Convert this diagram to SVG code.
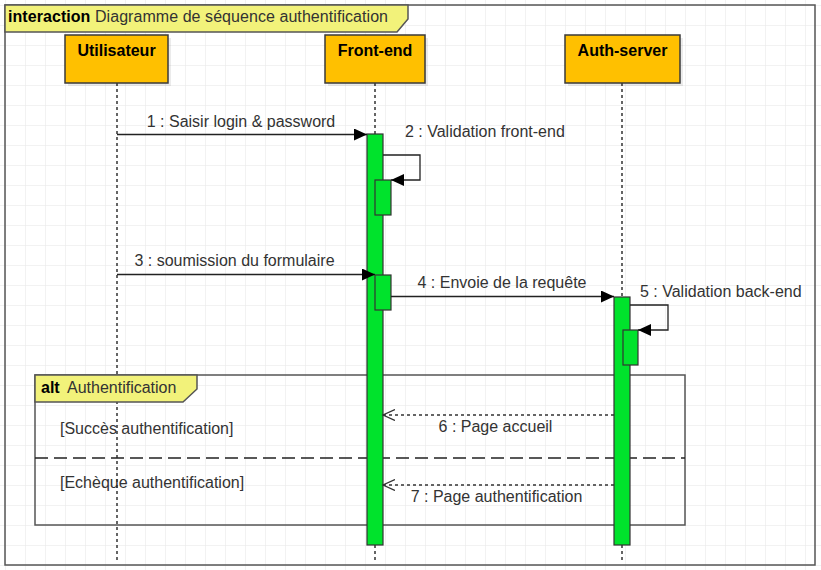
<svg xmlns="http://www.w3.org/2000/svg" width="821" height="570" viewBox="0 0 821 570">
<style>
text{font-family:"Liberation Sans",Arial,sans-serif;font-size:16px;fill:#333}
.b{font-weight:bold;fill:#000}
.frame{fill:none;stroke:#555;stroke-width:1.5}
.tab{fill:#f2f27a;stroke:#555;stroke-width:1.5}
.lbox{fill:#ffc000;stroke:#3a3a3a;stroke-width:1.5}
.shadow{fill:#000;opacity:0.08}
.life{stroke:#333;stroke-width:1.5;stroke-dasharray:3 3;fill:none}
.bar{fill:#00e32c;stroke:#333;stroke-width:1.2}
.msg{stroke:#222;stroke-width:1.3;fill:none}
.ret{stroke:#333;stroke-width:1.3;fill:none;stroke-dasharray:3 3}
.div{stroke:#222;stroke-width:1.3;stroke-dasharray:13 6;fill:none}
</style>
<defs>
<pattern id="grid" width="20" height="20" x="5" y="5" patternUnits="userSpaceOnUse">
<path d="M20,0 L0,0 L0,20" fill="none" stroke="#e6e6e6" stroke-width="1"/>
</pattern>
<marker id="filled" markerUnits="userSpaceOnUse" markerWidth="14" markerHeight="12" refX="13" refY="6" orient="auto">
<path d="M0,0 L13,6 L0,12 z" fill="#000"/>
</marker>
<marker id="open" markerUnits="userSpaceOnUse" markerWidth="14" markerHeight="12" refX="12" refY="6" orient="auto">
<path d="M0,0.5 L12,6 L0,11.5" fill="none" stroke="#333" stroke-width="1.3"/>
</marker>
</defs>
<rect width="821" height="570" fill="#fff"/>
<rect width="821" height="570" fill="url(#grid)"/>

<g id="frame-interaction">
<rect class="frame" x="5" y="5" width="810" height="560"/>
<path class="tab" d="M5,5 L408,5 L408,19 L397,32 L5,32 Z"/>
<text x="8" y="22" textLength="380"><tspan class="b">interaction</tspan> Diagramme de séquence authentification</text>
</g>

<g id="lifelines">
<line class="life" x1="117" y1="83" x2="117" y2="562"/>
<line class="life" x1="375" y1="83" x2="375" y2="562"/>
<line class="life" x1="622" y1="83" x2="622" y2="562"/>
</g>

<g id="alt-frame">
<rect class="frame" x="35" y="375" width="650" height="150"/>
<path class="tab" d="M35,375 L197,375 L197,389 L183,402 L35,402 Z"/>
<text x="41" y="393"><tspan class="b">alt</tspan><tspan x="67">Authentification</tspan></text>
<line class="div" x1="35" y1="458" x2="685" y2="458"/>
<text x="60" y="434">[Succès authentification]</text>
<text x="60" y="488">[Echèque authentification]</text>
</g>

<g id="utilisateur">
<rect class="shadow" x="68" y="38" width="103" height="48"/>
<rect class="lbox" x="65" y="35" width="103" height="48"/>
<text class="b" x="116.5" y="56" text-anchor="middle">Utilisateur</text>
</g>

<g id="front-end">
<rect class="shadow" x="328" y="38" width="100" height="48"/>
<rect class="lbox" x="325" y="35" width="100" height="48"/>
<text class="b" x="375" y="56" text-anchor="middle">Front-end</text>
<rect class="bar" x="367" y="134" width="16" height="411"/>
<rect class="bar" x="375" y="180" width="16" height="35"/>
<rect class="bar" x="375" y="275" width="16" height="35"/>
</g>

<g id="auth-server">
<rect class="shadow" x="568" y="38" width="115" height="48"/>
<rect class="lbox" x="565" y="35" width="115" height="48"/>
<text class="b" x="622.5" y="56" text-anchor="middle">Auth-server</text>
<rect class="bar" x="614" y="297" width="16" height="248"/>
<rect class="bar" x="623" y="330" width="15" height="35"/>
</g>

<g id="connectors">
<path class="msg" d="M117,134.5 L367,134.5" marker-end="url(#filled)"/>
<text x="241" y="127" text-anchor="middle">1 : Saisir login &amp; password</text>
<path class="msg" d="M383,155 L420,155 L420,180 L391,180" marker-end="url(#filled)"/>
<text x="405" y="137">2 : Validation front-end</text>
<path class="msg" d="M117,274.5 L375,274.5" marker-end="url(#filled)"/>
<text x="234.5" y="266" text-anchor="middle">3 : soumission du formulaire</text>
<path class="msg" d="M391,296.5 L614,296.5" marker-end="url(#filled)"/>
<text x="502" y="288" text-anchor="middle">4 : Envoie de la requête</text>
<path class="msg" d="M630,305 L668,305 L668,330 L638,330" marker-end="url(#filled)"/>
<text x="640" y="297">5 : Validation back-end</text>
<path class="ret" d="M614,415 L383,415" marker-end="url(#open)"/>
<text x="495.5" y="432" text-anchor="middle">6 : Page accueil</text>
<path class="ret" d="M614,485 L383,485" marker-end="url(#open)"/>
<text x="496.5" y="502" text-anchor="middle">7 : Page authentification</text>
</g>
</svg>
